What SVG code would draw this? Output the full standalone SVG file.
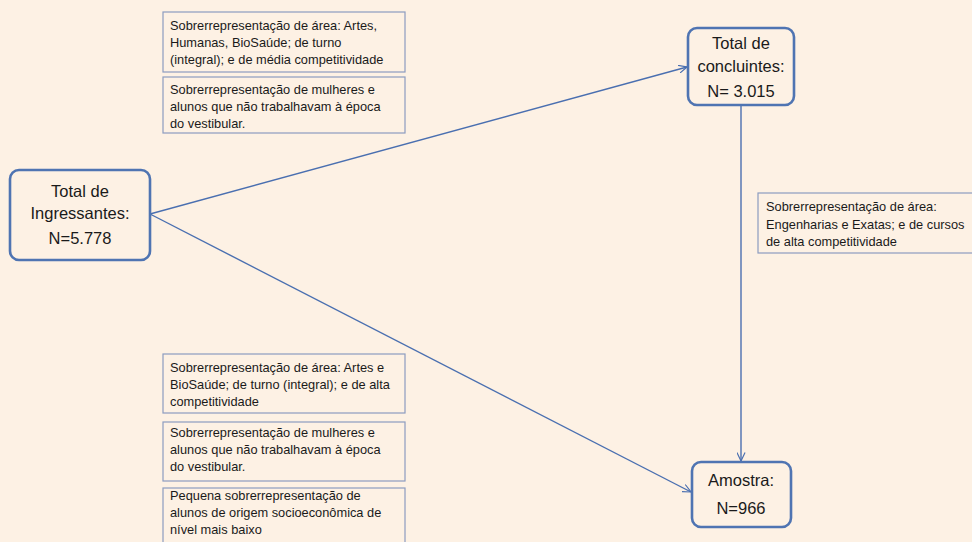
<svg xmlns="http://www.w3.org/2000/svg" width="972" height="542" viewBox="0 0 972 542">
<style>
.bg{fill:#FDF1E4}
.node{fill:#FDF1E4;stroke:#4F74B2;stroke-width:2.6}
.note{fill:#FDF1E4;stroke:#8C9CC0;stroke-width:1.2}
.big{font-family:"Liberation Sans",Arial,sans-serif;font-size:16.5px;fill:#1a1a1a;text-anchor:middle}
.sm{font-family:"Liberation Sans",Arial,sans-serif;font-size:12.8px;fill:#1a1a1a}
.edge{stroke:#4A6FB0;stroke-width:1.4;fill:none}
</style>
<defs>
<marker id="arr" viewBox="0 0 10 10" refX="9.5" refY="5" markerWidth="9" markerHeight="9" markerUnits="userSpaceOnUse" orient="auto">
<path d="M0,0.5 L9.5,5 L0,9.5" fill="none" stroke="#4A6FB0" stroke-width="1.3"/>
</marker>
</defs>
<rect class="bg" x="0" y="0" width="972" height="542"/>
<g id="connectors">
<line class="edge" x1="150" y1="214" x2="687" y2="67" marker-end="url(#arr)"/>
<line class="edge" x1="150" y1="214" x2="691" y2="492" marker-end="url(#arr)"/>
<line class="edge" x1="741" y1="106" x2="741" y2="461" marker-end="url(#arr)"/>
</g>
<g id="ingressantes">
<rect class="node" x="10" y="170" width="140" height="90" rx="9"/>
<text class="big" x="80" y="197">Total de</text>
<text class="big" x="80" y="219">Ingressantes:</text>
<text class="big" x="80" y="244">N=5.778</text>
</g>
<g id="concluintes">
<rect class="node" x="688" y="28" width="106" height="77" rx="9"/>
<text class="big" x="741" y="49">Total de</text>
<text class="big" x="741" y="72">concluintes:</text>
<text class="big" x="741" y="97">N= 3.015</text>
</g>
<g id="amostra">
<rect class="node" x="692" y="462" width="99" height="65" rx="9"/>
<text class="big" x="741" y="486">Amostra:</text>
<text class="big" x="741" y="514">N=966</text>
</g>
<g id="note-top-1">
<rect class="note" x="163" y="12" width="242" height="60"/>
<text class="sm" x="170" y="30">Sobrerrepresentação de área: Artes,</text>
<text class="sm" x="170" y="47">Humanas, BioSaúde; de turno</text>
<text class="sm" x="170" y="64">(integral); e de média competitividade</text>
</g>
<g id="note-top-2">
<rect class="note" x="163" y="77" width="242" height="56"/>
<text class="sm" x="170" y="94">Sobrerrepresentação de mulheres e</text>
<text class="sm" x="170" y="111">alunos que não trabalhavam à época</text>
<text class="sm" x="170" y="128">do vestibular.</text>
</g>
<g id="note-right">
<rect class="note" x="758" y="193" width="220" height="60"/>
<text class="sm" x="766" y="211">Sobrerrepresentação de área:</text>
<text class="sm" x="766" y="229">Engenharias e Exatas; e de cursos</text>
<text class="sm" x="766" y="246">de alta competitividade</text>
</g>
<g id="note-bottom-1">
<rect class="note" x="163" y="354" width="242" height="59"/>
<text class="sm" x="170" y="372">Sobrerrepresentação de área: Artes e</text>
<text class="sm" x="170" y="389">BioSaúde; de turno (integral); e de alta</text>
<text class="sm" x="170" y="406">competitividade</text>
</g>
<g id="note-bottom-2">
<rect class="note" x="163" y="422" width="242" height="59"/>
<text class="sm" x="170" y="437">Sobrerrepresentação de mulheres e</text>
<text class="sm" x="170" y="454">alunos que não trabalhavam à época</text>
<text class="sm" x="170" y="471">do vestibular.</text>
</g>
<g id="note-bottom-3">
<rect class="note" x="163" y="488" width="242" height="60"/>
<text class="sm" x="170" y="500">Pequena sobrerrepresentação de</text>
<text class="sm" x="170" y="517">alunos de origem socioeconômica de</text>
<text class="sm" x="170" y="534">nível mais baixo</text>
</g>
</svg>
